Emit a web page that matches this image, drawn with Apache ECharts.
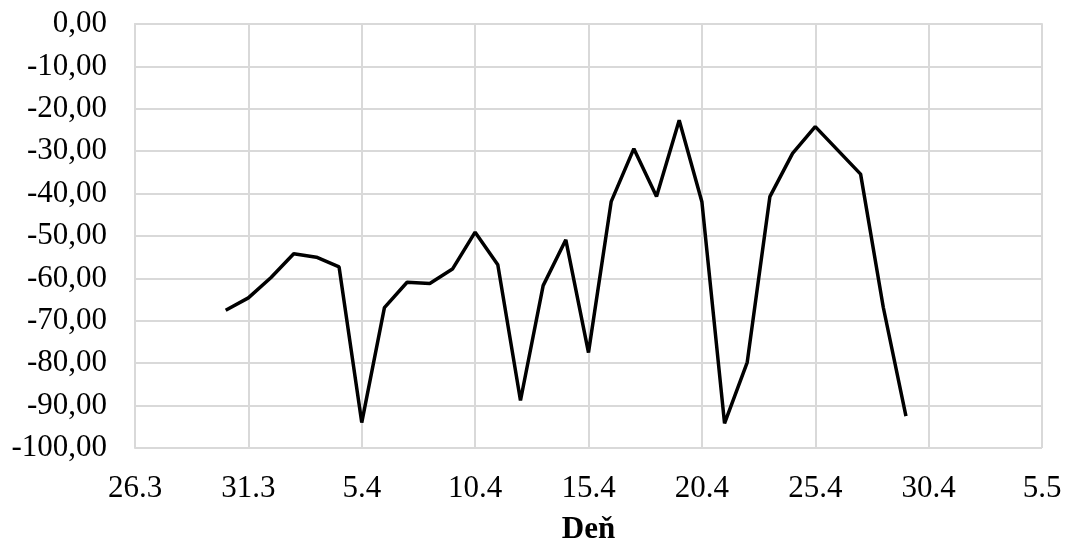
<!DOCTYPE html>
<html>
<head>
<meta charset="utf-8">
<script src="https://cdn.jsdelivr.net/npm/echarts@6/dist/echarts.min.js"></script>
<style>
html,body{margin:0;padding:0;background:#fff;}
#chart{width:1065px;height:550px;}
</style>
</head>
<body>
<div id="chart"></div>
<script>
// Data
const dates = ['30.3','31.3','1.4','2.4','3.4','4.4','5.4','6.4','7.4','8.4','9.4','10.4','11.4','12.4','13.4','14.4','15.4','16.4','17.4','18.4','19.4','20.4','21.4','22.4','23.4','24.4','25.4','26.4','27.4','28.4','29.4'];
const values = [-67.5,-64.6,-59.8,-54.2,-55.0,-57.3,-94.0,-66.9,-60.9,-61.2,-57.8,-49.1,-56.8,-88.8,-61.7,-50.9,-77.5,-41.9,-29.4,-40.7,-22.7,-41.9,-94.2,-79.8,-40.7,-30.5,-24.2,-29.8,-35.4,-66.8,-92.5];
const xTickLabels = ['26.3','31.3','5.4','10.4','15.4','20.4','25.4','30.4','5.5'];
const xAxisTitle = 'Deň';

const baseDate = '26.3';
function dayNum(s){
  const p = s.split('.');
  return Date.UTC(2020, parseInt(p[1],10)-1, parseInt(p[0],10)) / 86400000;
}
const base = dayNum(baseDate);
const seriesData = dates.map((d,i)=>[dayNum(d)-base, values[i]]);

const font = '"Liberation Serif","Times New Roman",serif';
const gridColor = '#d9d9d9';
const chart = echarts.init(document.getElementById('chart'));
chart.setOption({
  animation:false,
  backgroundColor:'#fff',
  grid:{left:135,right:23,top:24,bottom:95,containLabel:false},
  xAxis:{
    type:'value',min:0,max:40,interval:5,
    name:xAxisTitle,nameLocation:'middle',nameGap:66,
    nameTextStyle:{fontFamily:font,fontSize:31,fontWeight:'bold',color:'#000'},
    axisLine:{show:true,lineStyle:{color:gridColor,width:2}},
    axisTick:{show:false},
    splitLine:{show:true,lineStyle:{color:gridColor,width:2}},
    axisLabel:{fontFamily:font,fontSize:31,color:'#000',margin:25,
      formatter:function(v){const i=Math.round(v/5);return xTickLabels[i]!==undefined?xTickLabels[i]:'';}}
  },
  yAxis:{
    type:'value',min:-100,max:0,interval:10,
    axisLine:{show:true,lineStyle:{color:gridColor,width:2}},
    axisTick:{show:false},
    splitLine:{show:true,lineStyle:{color:gridColor,width:2}},
    axisLabel:{fontFamily:font,fontSize:31,color:'#000',margin:28,
      formatter:function(v){return v.toFixed(2).replace('.',',');}}
  },
  series:[{
    type:'line',data:seriesData,showSymbol:false,symbol:'none',
    lineStyle:{color:'#000',width:3.5},
    itemStyle:{color:'#000'}
  }]
});
</script>
</body>
</html>
